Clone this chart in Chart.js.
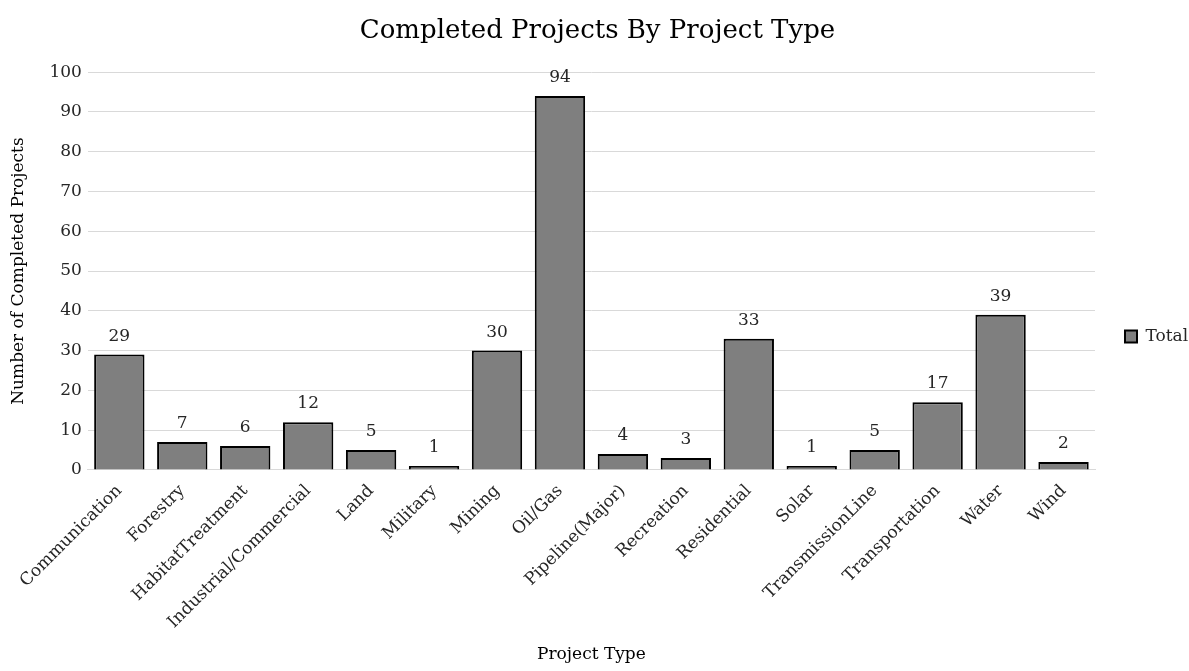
<!DOCTYPE html>
<html>
<head>
<meta charset="utf-8">
<script src="https://cdn.jsdelivr.net/npm/chart.js@4.4.0/dist/chart.umd.min.js"></script>
<style>
  html, body { margin: 0; padding: 0; background: #fff; }
  #wrap { width: 1189px; height: 671px; }
</style>
</head>
<body>
<div id="wrap"><canvas id="myChart"></canvas></div>
<script>
// 資料
var projectTypes = ['Communication', 'Forestry', 'HabitatTreatment', 'Industrial/Commercial', 'Land',
	'Military', 'Mining', 'Oil/Gas', 'Pipeline(Major)', 'Recreation', 'Residential', 'Solar',
	'TransmissionLine', 'Transportation', 'Water', 'Wind'];
var totalValues = [29, 7, 6, 12, 5, 1, 30, 94, 4, 3, 33, 1, 5, 17, 39, 2];
var yTicks = [0, 10, 20, 30, 40, 50, 60, 70, 80, 90, 100];

var serif = "'DejaVu Serif', 'Liberation Serif', serif";

// 柱子上方的數字
var barLabels = {
	id: 'barLabels',
	beforeLayout: function(chart) {
		// 圖例固定寬度，讓圖表右邊界對齊
		var lg = chart.legend;
		if (lg && !lg._fixed) {
			var origFit = lg.fit;
			lg.fit = function() {
				origFit.call(this);
				this.width = 94;
			};
			lg._fixed = true;
		}
	},
	afterDatasetsDraw: function(chart) {
		var ctx = chart.ctx;
		var meta = chart.getDatasetMeta(0);
		ctx.save();
		ctx.font = '17px ' + serif;
		ctx.fillStyle = '#262626';
		ctx.textAlign = 'center';
		ctx.textBaseline = 'bottom';
		meta.data.forEach(function(bar, i) {
			ctx.fillText(chart.data.datasets[0].data[i], bar.x, bar.y - 10);
		});
		ctx.restore();
	}
};

var ctx = document.getElementById('myChart');
var myChart = new Chart(ctx, {
	type: 'bar',
	data: {
		labels: projectTypes,
		datasets: [{
			label: 'Total',
			data: totalValues,
			backgroundColor: '#7f7f7f',
			borderColor: '#000000',
			borderWidth: 2,
			barPercentage: 0.8,
			categoryPercentage: 1.0
		}]
	},
	plugins: [barLabels],
	options: {
		responsive: true,
		maintainAspectRatio: false,
		animation: false,
		layout: { padding: { left: 6, right: 0, top: 4, bottom: 2 } },
		plugins: {
			title: {
				display: true,
				text: 'Completed Projects By Project Type',
				color: '#000',
				font: { family: serif, size: 26, weight: 'normal' },
				padding: { top: 12, bottom: 25 }
			},
			legend: {
				position: 'right',
				labels: {
					color: '#262626',
					font: { family: serif, size: 17 },
					boxWidth: 12,
					boxHeight: 12,
					padding: 30
				}
			},
			tooltip: { enabled: false }
		},
		scales: {
			x: {
				grid: { display: false },
				border: { color: '#d9d9d9', width: 1 },
				ticks: {
					color: '#262626',
					font: { family: serif, size: 17 },
					maxRotation: 45,
					minRotation: 45,
					autoSkip: false
				},
				title: {
					display: true,
					text: 'Project Type',
					color: '#000',
					font: { family: serif, size: 17 },
					padding: { top: 9 }
				}
			},
			y: {
				min: 0,
				max: 100,
				afterBuildTicks: function(axis) {
					axis.ticks = yTicks.map(function(v) { return { value: v }; });
				},
				grid: { color: '#d9d9d9', lineWidth: 1, drawTicks: false },
				border: { display: false },
				ticks: {
					color: '#262626',
					font: { family: serif, size: 17 },
					padding: 6
				},
				title: {
					display: true,
					text: 'Number of Completed Projects',
					color: '#000',
					font: { family: serif, size: 17 },
					padding: { top: 2, bottom: 15 }
				}
			}
		}
	}
});
</script>
</body>
</html>
